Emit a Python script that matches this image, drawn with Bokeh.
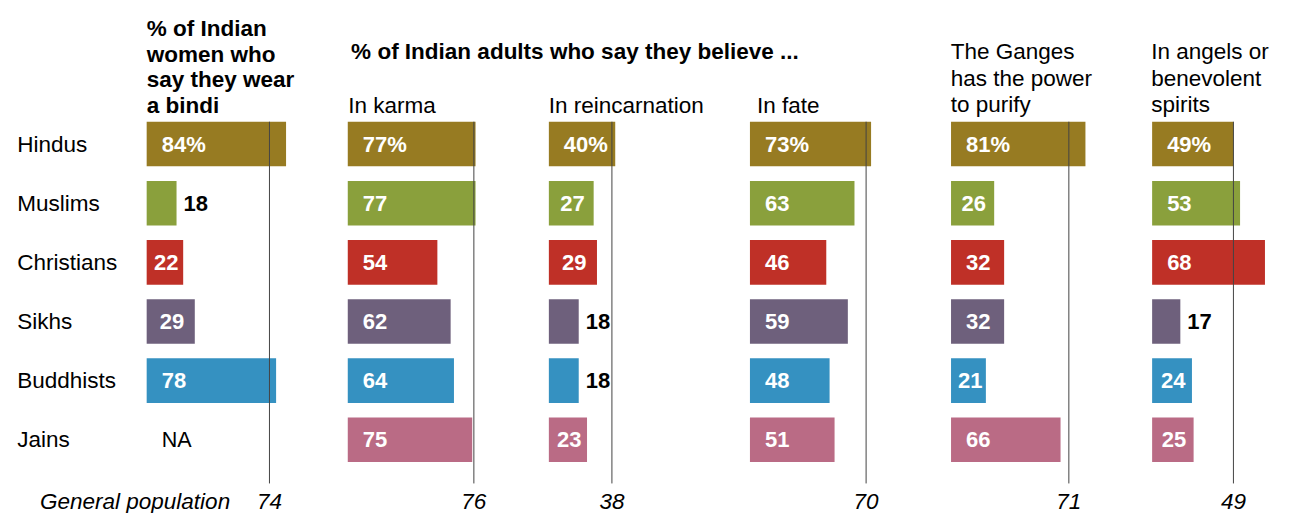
from bokeh.plotting import figure
from bokeh.models import Range1d, ColumnDataSource
from bokeh.core.properties import value
from bokeh.embed import file_html
from bokeh.resources import INLINE

groups = ["Hindus", "Muslims", "Christians", "Sikhs", "Buddhists", "Jains"]
colors = ["#977B22", "#8AA03C", "#BF3027", "#6E607C", "#3591C1", "#BA6B85"]
bindi = [84, 18, 22, 29, 78, None]
karma = [77, 77, 54, 62, 64, 75]
reincarnation = [40, 27, 29, 18, 18, 23]
fate = [73, 63, 46, 59, 48, 51]
ganges = [81, 26, 32, 32, 21, 66]
angels = [49, 53, 68, 17, 24, 25]
general_population = [74, 76, 38, 70, 71, 49]
panels = [bindi, karma, reincarnation, fate, ganges, angels]
panel_titles = [
    ["% of Indian", "women who", "say they wear", "a bindi"],
    ["In karma"],
    ["In reincarnation"],
    ["In fate"],
    ["The Ganges", "has the power", "to purify"],
    ["In angels or", "benevolent", "spirits"],
]
group_title = "% of Indian adults who say they believe ..."
footer_label = "General population"

FONT = "Liberation Sans"
W, H = 1282, 513
SX, SY = W / 1298, H / 529       # fit the 1298x529 design into the page
PXU = 1.68 * SX                  # pixels per percentage point
ROW = 61.0 * SY                  # pixels per row
X0 = 148 * SX                    # canvas px of first panel's zero
Y0 = 148 * SY                    # canvas px of first row center
STEP = 203.6 / 1.68              # panel spacing in data units

REG = "22.5px"
VAL = "22px"


def fx(px):  # design pixel -> data x
    return (px * SX - X0) / PXU


def fy(py):  # design pixel -> data y
    return (py * SY - Y0) / ROW


p = figure(width=W, height=H, output_backend="svg", toolbar_location=None,
           x_range=Range1d(-X0 / PXU, (W - X0) / PXU),
           y_range=Range1d((H - Y0) / ROW, -Y0 / ROW),
           min_border=0)
p.axis.visible = False
p.grid.visible = False
p.outline_line_color = None
p.background_fill_color = "white"

half = 0.377
for k, vals in enumerate(panels):
    off = k * STEP
    rows = [i for i, v in enumerate(vals) if v is not None]
    src = ColumnDataSource(dict(
        left=[off] * len(rows),
        right=[off + vals[i] for i in rows],
        top=[i - half for i in rows],
        bottom=[i + half for i in rows],
        color=[colors[i] for i in rows],
    ))
    p.quad(left="left", right="right", top="top", bottom="bottom",
           fill_color="color", line_color=None, source=src)

    in_x, in_y, in_t, in_off = [], [], [], []
    out_x, out_y, out_t = [], [], []
    na_x, na_y = [], []
    for i, v in enumerate(vals):
        if v is None:
            na_x.append(off)
            na_y.append(i)
            continue
        t = f"{v}%" if i == 0 else f"{v}"
        if v < 20:
            out_x.append(off + v); out_y.append(i); out_t.append(t)
        else:
            in_x.append(off); in_y.append(i); in_t.append(t)
            w = v * PXU
            in_off.append(min(15.0, max(7.0, 0.5 * (w - 28) + 3)))
    src_in = ColumnDataSource(dict(x=in_x, y=in_y, text=in_t, xo=in_off))
    p.text(x="x", y="y", text="text", x_offset="xo", source=src_in, text_color="white",
           text_font=value(FONT), text_font_style="bold", text_font_size=VAL,
           text_baseline="middle", text_align="left")
    p.text(x=out_x, y=out_y, text=out_t, x_offset=7, text_color="black",
           text_font=value(FONT), text_font_style="bold", text_font_size=VAL,
           text_baseline="middle", text_align="left")
    if na_x:
        p.text(x=na_x, y=na_y, text=["NA"] * len(na_x), x_offset=15, text_color="black",
               text_font=value(FONT), text_font_size="21.5px",
               text_baseline="middle", text_align="left")

    g = general_population[k]
    p.segment(x0=[off + g], x1=[off + g], y0=[-half], y1=[fy(498)],
              line_color="#444444", line_width=1)
    p.text(x=[off + g], y=[fy(517)], text=[str(g)], text_color="black",
           text_font=value(FONT), text_font_style="italic", text_font_size=REG,
           text_baseline="alphabetic", text_align="center")

p.text(x=[fx(17)] * len(groups), y=list(range(len(groups))), text=groups,
       text_color="black", text_font=value(FONT), text_font_size=REG,
       text_baseline="middle", text_align="left")

p.text(x=[fx(40)], y=[fy(517)], text=[footer_label], text_color="black",
       text_font=value(FONT), text_font_style="italic", text_font_size=REG,
       text_baseline="alphabetic", text_align="left")

title_x = [148, 352, 555, 766, 962, 1165]
bindi_baselines = [29, 55.3, 81.6, 108]
three_baselines = [53, 80, 107]
for k, lines in enumerate(panel_titles):
    if k == 0:
        bl, style = bindi_baselines, "bold"
    elif len(lines) == 1:
        bl, style = [108], "normal"
    else:
        bl, style = three_baselines, "normal"
    p.text(x=[fx(title_x[k])] * len(lines), y=[fy(b) for b in bl], text=lines,
           text_color="black", text_font=value(FONT), text_font_style=style,
           text_font_size=REG, text_baseline="alphabetic", text_align="left")

p.text(x=[fx(355)], y=[fy(53)], text=[group_title], text_color="black",
       text_font=value(FONT), text_font_style="bold", text_font_size=REG,
       text_baseline="alphabetic", text_align="left")

open("out.html", "w").write(file_html(p, INLINE))
